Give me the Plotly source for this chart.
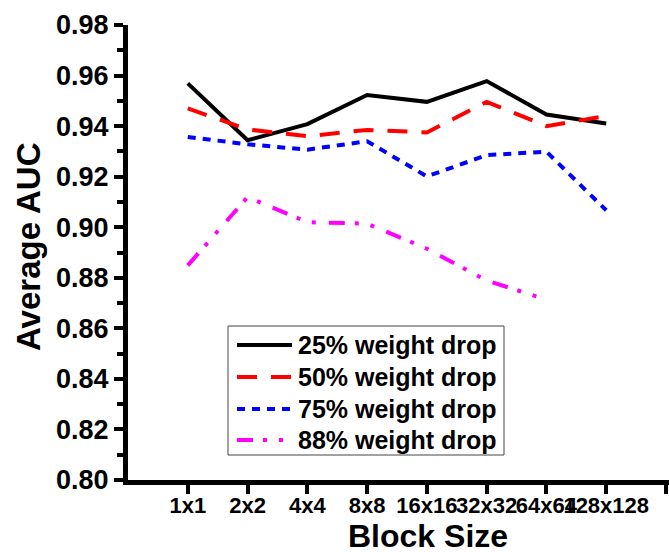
import plotly.graph_objects as go

# Block sizes on the x axis
block_sizes = ["1x1", "2x2", "4x4", "8x8", "16x16", "32x32", "64x64", "128x128"]

# Average AUC for each weight-drop ratio
auc_25 = [0.9569, 0.9344, 0.9408, 0.9523, 0.9496, 0.9578, 0.9446, 0.9410]
auc_50 = [0.9470, 0.9387, 0.9360, 0.9385, 0.9375, 0.9496, 0.9400, 0.9440]
auc_75 = [0.9357, 0.9328, 0.9307, 0.9340, 0.9201, 0.9285, 0.9299, 0.9067]
auc_88 = [0.8849, 0.9119, 0.9020, 0.9014, 0.8915, 0.8789, 0.8714]

series_names = ["25% weight drop", "50% weight drop", "75% weight drop", "88% weight drop"]
y_ticks = [0.80, 0.82, 0.84, 0.86, 0.88, 0.90, 0.92, 0.94, 0.96, 0.98]

positions = list(range(1, len(block_sizes) + 1))

W, H = 669, 552
M_L, M_R, M_T, M_B = 128, 0, 25, 72
PLOT_W = W - M_L - M_R
PLOT_H = H - M_T - M_B


def px_x(px):
    """Horizontal pixel -> paper coordinate."""
    return (px - M_L) / PLOT_W


def px_y(py):
    """Vertical pixel (from top) -> paper coordinate."""
    return (H - M_B - py) / PLOT_H


styles = [
    dict(color="black", width=4, dash="solid"),
    dict(color="red", width=4, dash="20px,14px"),
    dict(color="blue", width=4, dash="8px,7px"),
    dict(color="magenta", width=4, dash="16px,10px,4px,12px,4px,13px"),
]

fig = go.Figure()
for name, vals, st in zip(series_names, [auc_25, auc_50, auc_75, auc_88], styles):
    fig.add_trace(go.Scatter(
        x=positions[:len(vals)], y=vals, mode="lines", name=name,
        line=st, showlegend=False,
    ))

font_family = "Liberation Sans, Arial, sans-serif"

# Boxed key in the lower-left of the plot
shapes = [dict(
    type="rect", xref="paper", yref="paper",
    x0=px_x(228), x1=px_x(504), y0=px_y(455), y1=px_y(326),
    line=dict(color="#444444", width=1), fillcolor="white", layer="above",
)]
annotations = []
row_y = [345, 377, 409, 440]
for name, st, ry in zip(series_names, styles, row_y):
    shapes.append(dict(
        type="line", xref="paper", yref="paper",
        x0=px_x(237), x1=px_x(292), y0=px_y(ry), y1=px_y(ry),
        line=dict(color=st["color"], width=4, dash=st["dash"]), layer="above",
    ))
    annotations.append(dict(
        text=name, xref="paper", yref="paper", x=px_x(296), y=px_y(ry),
        xanchor="left", yanchor="middle", showarrow=False,
        font=dict(size=25, family=font_family, color="black", weight="bold"),
    ))

# Axis titles
annotations.append(dict(
    text="Block Size", xref="paper", yref="paper", x=px_x(428), y=px_y(536),
    xanchor="center", yanchor="middle", showarrow=False,
    font=dict(size=32, family=font_family, color="black", weight="bold"),
))
annotations.append(dict(
    text="Average AUC", xref="paper", yref="paper", x=px_x(28), y=px_y(247),
    xanchor="center", yanchor="middle", showarrow=False, textangle=-90,
    font=dict(size=33, family=font_family, color="black", weight="bold"),
))

fig.update_layout(
    width=W, height=H,
    margin=dict(l=M_L, r=M_R, t=M_T, b=M_B),
    paper_bgcolor="white", plot_bgcolor="white",
    font=dict(family=font_family, color="black"),
    showlegend=False,
    shapes=shapes,
    annotations=annotations,
    xaxis=dict(
        range=[0, 9.05],
        tickvals=positions + [9],
        ticktext=block_sizes + [""],
        tickangle=0,
        ticks="outside", ticklen=9, tickwidth=4, tickcolor="black",
        ticklabelstandoff=-7,
        showline=True, linewidth=5, linecolor="black",
        showgrid=False, zeroline=False,
        tickfont=dict(size=22, family=font_family, weight="bold"),
    ),
    yaxis=dict(
        range=[0.80, 0.98],
        tickvals=y_ticks,
        tickformat=".2f",
        ticks="outside", ticklen=9, tickwidth=4, tickcolor="black",
        minor=dict(dtick=0.01, tick0=0.81, ticks="outside", ticklen=6,
                   tickwidth=4, tickcolor="black", showgrid=False),
        showline=True, linewidth=5, linecolor="black",
        showgrid=False, zeroline=False,
        tickfont=dict(size=27, family=font_family, weight="bold"),
    ),
)

fig.write_html("out.html")
